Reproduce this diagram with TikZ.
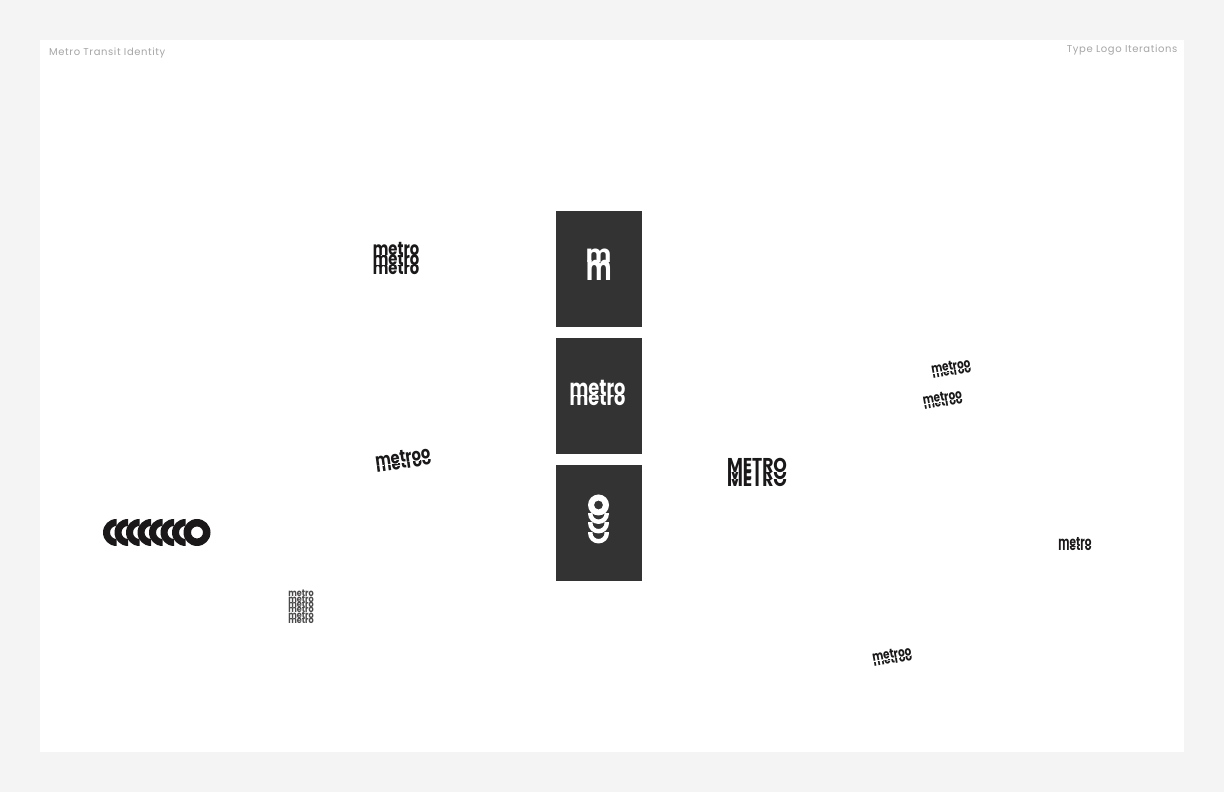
\documentclass[tikz,border=0pt]{standalone}
\usepackage{fontspec}
\setmainfont{Poppins}
\newfontfamily\capfont[LetterSpace=6]{Poppins}
\definecolor{pagebg}{HTML}{F4F4F4}
\definecolor{tile}{HTML}{333333}
\definecolor{ink}{HTML}{1A1818}
\definecolor{cap}{HTML}{A6A6A6}
\definecolor{fine}{HTML}{4A4848}
\tikzset{
  panelbox/.style={fill=white,draw=none},
  tilebox/.style={fill=tile,draw=none},
  caption/.style={text=cap,inner sep=0pt,font=\capfont\fontsize{10pt}{12pt}\selectfont},
  word/.style={inner sep=0pt,anchor=base,transform shape,font=\bfseries\fontsize{#1pt}{#1pt}\selectfont},
}
% name, cx, top-baseline y (px), rot, text, size, xscale, rows k/offset/cut/colour
\newcommand\mlogo[8]{%
  \begin{scope}[shift={(#2,{792-#3})},rotate=#4,xscale=#7]
    \def\lname{#1}\def\ltext{#5}\def\lsize{#6}
    \mlogorest{#8}
  \end{scope}}
\newcommand\mlogorest[1]{%
  \foreach \k/\st/\cut/\col in {#1}{%
    \begin{scope}
      \clip (-80,{-\st+\cut}) rectangle (80,{-\st-20});
      \node[word=\lsize,text=\col] (\lname-\k) at (0,-\st) {\ltext};
    \end{scope}}}
\newcommand\halfbowl[3]{% cx cy r
  \begin{scope}
    \clip ({#1-20},{792-#2}) rectangle ({#1+20},{792-#2-20});
    \fill[white,even odd rule] (#1,{792-#2}) circle (#3) (#1,{792-#2}) circle (6);
  \end{scope}}
\newcommand\crescent[2]{% cx cy
  \begin{scope}
    \clip ({#1-20},{792-#2-20}) rectangle (#1,{792-#2+20});
    \fill[ink,even odd rule] (#1,{792-#2}) circle (13.5) (#1,{792-#2}) circle (6.5);
  \end{scope}}
\begin{document}
\begin{tikzpicture}[x=1pt,y=1pt]
\useasboundingbox (0,0) rectangle (1224,792);
\fill[pagebg] (0,0) rectangle (1224,792);
\node[panelbox,minimum width=1144pt,minimum height=712pt,inner sep=0pt] (panel) at (612,396) {};
\node[caption,anchor=base west] (capl) at (49,{792-55.5}) {Metro Transit Identity};
\node[caption,anchor=base east] (capr) at (1177.5,{792-52.5}) {Type Logo Iterations};
% tiles
\node[tilebox,minimum width=86.5pt,minimum height=116pt,inner sep=0pt] (t1) at (598.8,{792-269}) {};
\node[tilebox,minimum width=86.5pt,minimum height=116pt,inner sep=0pt] (t2) at (598.8,{792-396}) {};
\node[tilebox,minimum width=86.5pt,minimum height=116pt,inner sep=0pt] (t3) at (598.8,{792-523}) {};
% tile logos
\mlogo{lmb}{599}{281}{0}{m}{36}{.667}{0/0/30/white}
\mlogo{lm}{598.5}{263}{0}{m}{24}{1}{0/0/30/white}
\mlogo{lw}{597.5}{395.5}{0}{metro}{22}{.806}{1/10.5/10.5/white,0/0/30/white}
% tile 3: ring and bowls
\halfbowl{598.5}{513.5}{10.5}
\halfbowl{598.5}{523}{10.5}
\halfbowl{598.5}{533}{10.5}
\fill[white,even odd rule] (598.5,{792-505}) circle (10.5) (598.5,{792-505}) circle (4.5);
% left chain
\foreach \c in {116.5,128,139.5,151,162.5,174,185.5}{\crescent{\c}{532.5}}
\fill[ink,even odd rule] (197,{792-532.5}) circle (13.5) (197,{792-532.5}) circle (6);
% free logos
\mlogo{a}{396}{256}{0}{metro}{19}{.777}{2/19/9.5/ink,1/9.5/9.5/ink,0/0/30/ink}
\mlogo{b}{403.5}{462.5}{8}{metroo}{17}{.86}{1/6/6/ink,0/0/30/ink}
\mlogo{c}{301}{597}{0}{metro}{9.5}{.85}{5/26.5/5.3/fine,4/21.2/5.3/fine,3/15.9/5.3/fine,2/10.6/5.3/fine,1/5.3/5.3/fine,0/0/30/fine}
\mlogo{d}{757}{473}{0}{METRO}{20}{.86}{2/14/7/ink,1/7/7/ink,0/0/30/ink}
\mlogo{e}{951.5}{370.5}{10}{metroo}{13}{.8}{1/5/5/ink,0/0/30/ink}
\mlogo{f}{943}{401.5}{10}{metroo}{13}{.8}{1/5/5/ink,0/0/30/ink}
\mlogo{g}{1075}{547}{0}{metro}{13}{.81}{1/4/4/ink,0/0/30/ink}
\mlogo{h}{892.5}{658.5}{10}{metroo}{13}{.8}{1/5/5/ink,0/0/30/ink}
\end{tikzpicture}
\end{document}
